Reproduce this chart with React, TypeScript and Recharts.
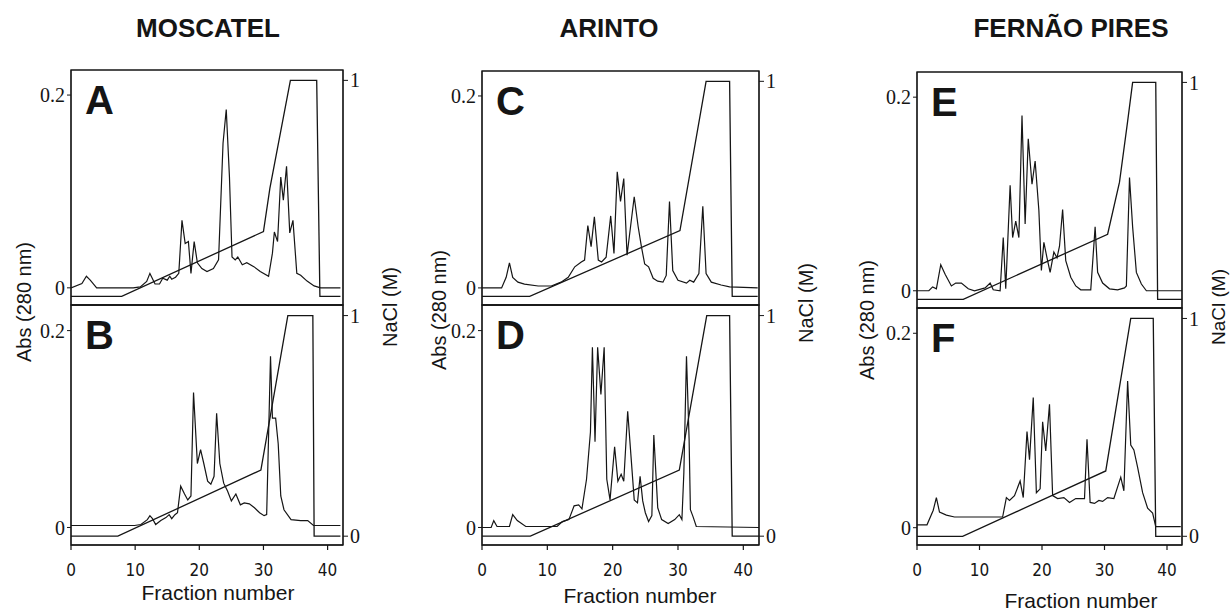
import { LineChart, Line, XAxis, YAxis, ReferenceArea } from 'recharts'

type Pt = [number, number]

const FRAC_TICKS = [0, 10, 20, 30, 40]
const ABS_TICKS = [0, 0.2]
const NACL_TICKS = [0, 1]
const NACL_TICKS_TOP = [1]
const X_MAX = 42.4
const ABS_DOMAIN = [-0.0178, 0.226]
const NACL_DOMAIN = [-0.04, 1.048]

// absorbance traces (fraction, Abs 280 nm)
const absA: Pt[] = [
  [0, 0], [1.7, 0.0045], [2.4, 0.012], [3.0, 0.008], [4, 0], [9.7, 0], [10.8, 0.001], [11.8, 0.0066],
  [12.3, 0.015], [13.1, 0.004], [13.8, 0.004], [14.3, 0.01], [15, 0.008], [15.4, 0.012], [15.7, 0.009],
  [16.3, 0.011], [16.8, 0.015], [17.3, 0.07], [17.8, 0.046], [18.3, 0.048], [18.7, 0.015], [19.2, 0.048],
  [19.7, 0.026], [20.4, 0.02], [21.2, 0.017], [22.2, 0.02], [23.0, 0.029], [23.7, 0.15], [24.2, 0.185],
  [24.7, 0.115], [25.1, 0.032], [25.6, 0.029], [26, 0.032], [26.7, 0.024], [27.4, 0.026], [28.5, 0.022],
  [29.5, 0.017], [30.8, 0.012], [31.4, 0.036], [31.7, 0.058], [32.2, 0.048], [32.7, 0.115], [33.1, 0.091],
  [33.6, 0.126], [34.1, 0.057], [34.6, 0.07], [35.2, 0.015], [35.8, 0.013], [36.8, 0.007], [37.9, 0.002],
  [38.9, 0], [42, 0],
]
const absB: Pt[] = [
  [0, 0.002], [9.9, 0.002], [10.9, 0.003], [11.9, 0.008], [12.3, 0.012], [12.7, 0.009], [13.2, 0.003],
  [14, 0.007], [14.8, 0.01], [15.3, 0.013], [15.7, 0.009], [16.2, 0.013], [16.6, 0.015], [17.1, 0.042],
  [17.7, 0.034], [18.2, 0.028], [18.7, 0.032], [19.1, 0.137], [19.7, 0.065], [20.2, 0.079], [20.7, 0.065],
  [21.3, 0.047], [21.8, 0.044], [22.3, 0.052], [22.7, 0.116], [23.2, 0.065], [23.8, 0.045], [24.4, 0.037],
  [25, 0.027], [25.7, 0.034], [26.4, 0.023], [27, 0.025], [27.8, 0.024], [28.6, 0.02], [29.4, 0.015],
  [30.1, 0.012], [30.5, 0.013], [31.1, 0.174], [31.4, 0.111], [31.9, 0.111], [32.3, 0.085], [32.7, 0.032],
  [33.2, 0.018], [34.3, 0.008], [35.8, 0.007], [36.9, 0.007], [37.8, 0.002], [42, 0.002],
]
const absC: Pt[] = [
  [0, 0], [3, 0], [3.7, 0.011], [4.2, 0.026], [4.7, 0.011], [5.5, 0.006], [6.5, 0.004], [8.6, 0.002],
  [10.6, 0.002], [12.1, 0.006], [13.2, 0.011], [14.2, 0.022], [15.2, 0.027], [15.7, 0.029], [16.2, 0.065],
  [16.7, 0.043], [17.2, 0.074], [17.8, 0.029], [18.3, 0.027], [19, 0.032], [19.7, 0.075], [20.2, 0.036],
  [20.7, 0.121], [21.2, 0.09], [21.7, 0.114], [22.2, 0.034], [23.3, 0.095], [23.9, 0.064], [24.4, 0.043],
  [24.9, 0.025], [25.5, 0.022], [26.2, 0.01], [26.9, 0.007], [27.7, 0.006], [28.2, 0.013], [28.7, 0.09],
  [29.2, 0.018], [30, 0.008], [31.3, 0.005], [31.8, 0.008], [32.4, 0.006], [33.2, 0.015], [33.8, 0.085],
  [34.3, 0.015], [35.1, 0.006], [36.6, 0.003], [37.9, 0.001], [42.2, 0],
]
const absD: Pt[] = [
  [0, 0], [1.4, 0], [1.8, 0.007], [2.3, 0.001], [4.2, 0.001], [4.7, 0.013], [5.4, 0.007], [6.7, 0.001],
  [11.5, 0.001], [12.3, 0.006], [13.3, 0.008], [14.1, 0.022], [14.8, 0.023], [15.3, 0.019], [16, 0.049],
  [16.6, 0.097], [16.9, 0.183], [17.3, 0.087], [17.7, 0.183], [18.2, 0.135], [18.7, 0.183], [19.1, 0.049],
  [19.6, 0.028], [20.3, 0.082], [20.8, 0.047], [21.3, 0.054], [21.7, 0.047], [22.3, 0.118], [22.8, 0.073],
  [23.3, 0.028], [23.8, 0.025], [24.2, 0.052], [24.6, 0.027], [25, 0.015], [25.5, 0.006], [26, 0.012],
  [26.3, 0.094], [26.9, 0.02], [27.5, 0.008], [28.5, 0.004], [29.5, 0.008], [30.2, 0.013], [30.6, 0.008],
  [30.9, 0.056], [31.3, 0.174], [31.7, 0.09], [31.9, 0.018], [32.3, 0.011], [32.8, 0.001], [42.4, 0],
]
const absE: Pt[] = [
  [0, 0], [1.9, 0], [2.5, 0.004], [3.1, 0.002], [3.8, 0.027], [4.5, 0.017], [5.5, 0.005], [6.2, 0.008],
  [7.1, 0.008], [8.2, 0.002], [9.2, 0], [10.9, 0.003], [11.7, 0.008], [12.2, 0.001], [13.3, 0],
  [13.8, 0.055], [14.2, 0.002], [14.9, 0.109], [15.3, 0.055], [15.8, 0.072], [16.3, 0.055], [16.8, 0.181],
  [17.3, 0.069], [17.8, 0.157], [18.4, 0.11], [18.9, 0.134], [19.5, 0.083], [19.9, 0.021], [20.3, 0.05],
  [20.8, 0.034], [21.3, 0.019], [21.9, 0.04], [22.4, 0.034], [22.8, 0.046], [23.3, 0.084], [23.8, 0.031],
  [24.6, 0.014], [25.4, 0.005], [26.2, 0.001], [27.8, 0.001], [28.5, 0.066], [28.9, 0.019], [29.7, 0.008],
  [30.8, 0.002], [32.1, 0.001], [33.2, 0.003], [33.5, 0.005], [34, 0.117], [34.5, 0.066], [35.1, 0.019],
  [35.9, 0.007], [36.7, 0], [42.4, 0],
]
const absF: Pt[] = [
  [0, 0.003], [1.6, 0.003], [2.6, 0.018], [3.1, 0.031], [3.6, 0.016], [4.7, 0.013], [6, 0.011],
  [13.7, 0.011], [14.3, 0.031], [14.8, 0.028], [15.6, 0.033], [16.5, 0.048], [17, 0.031], [17.6, 0.099],
  [18, 0.07], [18.6, 0.134], [19.1, 0.036], [19.7, 0.04], [20.1, 0.109], [20.6, 0.079], [21.2, 0.127],
  [21.7, 0.033], [22.5, 0.03], [23.5, 0.031], [24.4, 0.026], [25.4, 0.03], [26.8, 0.03], [27.2, 0.091],
  [27.7, 0.026], [28.4, 0.025], [29.1, 0.028], [29.7, 0.027], [30.5, 0.031], [31.5, 0.03], [32.6, 0.052],
  [33.1, 0.038], [33.7, 0.151], [34.2, 0.085], [34.7, 0.08], [35.3, 0.062], [36.1, 0.036], [36.9, 0.02],
  [37.7, 0.015], [38.2, 0.001], [42.2, 0.001],
]

// NaCl gradient (fraction, M)
const naclA: Pt[] = [[0, 0], [7.9, 0], [30, 0.3], [31, 0.5], [34.2, 1], [38.3, 1], [38.8, 0], [42, 0]]
const naclB: Pt[] = [[0, 0], [7.3, 0], [29.6, 0.3], [33.8, 1], [37.7, 1], [37.9, 0], [42, 0]]
const naclC: Pt[] = [[0, 0], [7.3, 0], [30.3, 0.306], [34.3, 1], [37.9, 1], [38.3, 0], [42.2, 0]]
const naclD: Pt[] = [[0, 0], [7.4, 0], [30.2, 0.3], [34.4, 1], [37.9, 1], [38.3, 0], [42.4, 0]]
const naclE: Pt[] = [[0, 0], [7.4, 0], [30.5, 0.3], [32.4, 0.54], [33.7, 0.82], [34.5, 1], [38.2, 1], [38.5, 0], [42.4, 0]]
const naclF: Pt[] = [[0, 0], [7.3, 0], [30.2, 0.3], [34.2, 1], [37.8, 1], [38.2, 0], [42.2, 0]]

const INK = '#151515'
const SANS = "'Liberation Sans', Arial, Helvetica, sans-serif"
const SERIF = "'Liberation Serif', 'Times New Roman', serif"
const NARROW = "'Liberation Sans Narrow', 'DejaVu Sans Condensed', 'Liberation Sans', sans-serif"

const rows = (pts: Pt[]) => pts.map(([f, v]) => ({ f, v }))

interface PanelProps {
  left: number
  top: number
  plotW: number
  plotH: number
  abs: Pt[]
  nacl: Pt[]
  letter: string
  bottom?: boolean
}

function Panel({ left, top, plotW, plotH, abs, nacl, letter, bottom }: PanelProps) {
  const ML = 46
  const MR = 40
  const MT = 10
  const XH = bottom ? 44 : 8
  return (
    <div style={{ position: 'absolute', left: left - ML, top: top - MT }}>
      <LineChart width={plotW + ML + MR} height={plotH + MT + XH} margin={{ top: MT, right: 0, bottom: 0, left: 0 }}>
        <XAxis
          type="number"
          dataKey="f"
          domain={[0, X_MAX]}
          ticks={FRAC_TICKS}
          allowDataOverflow
          height={XH}
          tickSize={5}
          tickMargin={14}
          stroke={INK}
          tickLine={{ stroke: INK, strokeWidth: 1.2 }}
          tick={bottom ? { fill: INK, fontSize: 17, fontFamily: NARROW } : false}
        />
        <YAxis
          yAxisId="abs"
          width={ML}
          domain={ABS_DOMAIN}
          ticks={ABS_TICKS}
          allowDataOverflow
          tickSize={4}
          tickMargin={2}
          stroke={INK}
          tick={{ fill: INK, fontSize: 20, fontFamily: SERIF }}
        />
        <YAxis
          yAxisId="nacl"
          orientation="right"
          width={MR}
          domain={NACL_DOMAIN}
          ticks={bottom ? NACL_TICKS : NACL_TICKS_TOP}
          allowDataOverflow
          tickSize={5}
          tickMargin={2}
          stroke={INK}
          tick={{ fill: INK, fontSize: 20, fontFamily: SERIF }}
        />
        <ReferenceArea
          yAxisId="abs"
          x1={0}
          x2={X_MAX}
          y1={ABS_DOMAIN[0]}
          y2={ABS_DOMAIN[1]}
          fill="none"
          stroke={INK}
          strokeWidth={1.3}
          ifOverflow="visible"
        />
        <Line yAxisId="nacl" data={rows(nacl)} dataKey="v" type="linear" stroke={INK} strokeWidth={1.3} dot={false} isAnimationActive={false} />
        <Line yAxisId="abs" data={rows(abs)} dataKey="v" type="linear" stroke={INK} strokeWidth={1.2} dot={false} isAnimationActive={false} />
      </LineChart>
      <div
        style={{
          position: 'absolute',
          left: ML + 14,
          top: MT + 10,
          fontFamily: SANS,
          fontWeight: 900,
          fontSize: 40,
          lineHeight: '40px',
          color: INK,
        }}
      >
        {letter}
      </div>
    </div>
  )
}

const titles = ['MOSCATEL', 'ARINTO', 'FERNÃO PIRES']

export default function App() {
  return (
    <div style={{ position: 'absolute', left: 0, top: 0, width: 1230, height: 611, background: '#fff', overflow: 'hidden' }}>
      <Panel left={71} top={70} plotW={272} plotH={235} abs={absA} nacl={naclA} letter="A" />
      <Panel left={71} top={305} plotW={272} plotH={240} abs={absB} nacl={naclB} letter="B" bottom />
      <Panel left={482} top={71} plotW={277} plotH={234} abs={absC} nacl={naclC} letter="C" />
      <Panel left={482} top={305} plotW={277} plotH={240} abs={absD} nacl={naclD} letter="D" bottom />
      <Panel left={917} top={72} plotW={265} plotH={236} abs={absE} nacl={naclE} letter="E" />
      <Panel left={917} top={308} plotW={265} plotH={237} abs={absF} nacl={naclF} letter="F" bottom />
      <svg width={1230} height={611} style={{ position: 'absolute', left: 0, top: 0, pointerEvents: 'none' }}>
        <g fontFamily={SANS} fill={INK}>
          <text x={208} y={37} fontSize={26} fontWeight="bold" textAnchor="middle">{titles[0]}</text>
          <text x={609} y={37} fontSize={26} fontWeight="bold" textAnchor="middle">{titles[1]}</text>
          <text x={1071} y={37} fontSize={26} fontWeight="bold" textAnchor="middle">{titles[2]}</text>

          <text transform="translate(31,302) rotate(-90)" fontSize={20} textAnchor="middle">Abs (280 nm)</text>
          <text transform="translate(446,310) rotate(-90)" fontSize={20} textAnchor="middle">Abs (280 nm)</text>
          <text transform="translate(874,320) rotate(-90)" fontSize={20} textAnchor="middle">Abs (280 nm)</text>

          <text transform="translate(397,307) rotate(-90)" fontSize={20} textAnchor="middle">NaCl (M)</text>
          <text transform="translate(813,303) rotate(-90)" fontSize={20} textAnchor="middle">NaCl (M)</text>
          <text transform="translate(1225,307) rotate(-90)" fontSize={19} textAnchor="middle">NaCl (M)</text>

          <text x={218} y={600} fontSize={21} textAnchor="middle">Fraction number</text>
          <text x={640} y={603} fontSize={21} textAnchor="middle">Fraction number</text>
          <text x={1081} y={608} fontSize={21} textAnchor="middle">Fraction number</text>
        </g>
      </svg>
    </div>
  )
}
